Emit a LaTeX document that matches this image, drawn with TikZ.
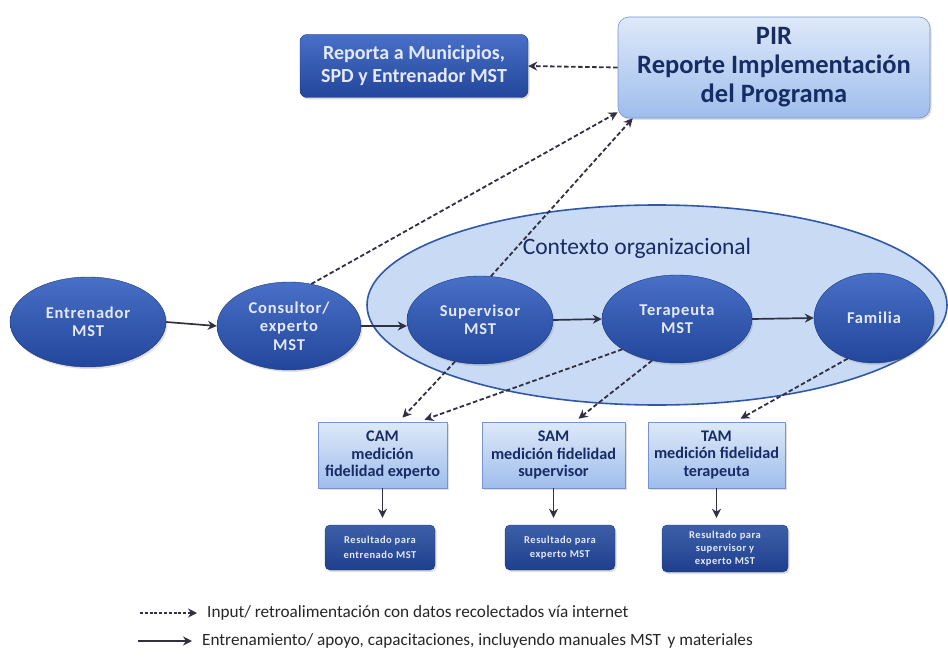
\documentclass[tikz,border=0pt]{standalone}
\usepackage{fontspec}
\setmainfont{Carlito}
\newfontfamily\widefam[LetterSpace=5]{Carlito}
\usetikzlibrary{shapes.geometric,arrows.meta,shadows}
\definecolor{nodetop}{RGB}{72,112,198}
\definecolor{nodebot}{RGB}{34,70,156}
\definecolor{nodetext}{RGB}{228,232,250}
\definecolor{lttop}{RGB}{222,233,249}
\definecolor{ltbot}{RGB}{158,189,236}
\definecolor{ltborder}{RGB}{118,148,206}
\definecolor{lttext}{RGB}{24,44,100}
\definecolor{ctxfill}{RGB}{200,218,244}
\definecolor{ctxborder}{RGB}{48,88,170}
\definecolor{conn}{RGB}{48,48,66}
\tikzset{
  shad/.style={drop shadow={opacity=0.25,shadow xshift=1.5pt,shadow yshift=-2pt}},
  dkell/.style={ellipse, inner sep=0pt, shad, top color=nodetop, bottom color=nodebot,
    draw=nodebot!80!black, line width=0.4pt, text=nodetext, align=center,
    font=\widefam\fontsize{16.5}{18.5}\selectfont\bfseries},
  dkbox/.style={rectangle, rounded corners=7pt, inner sep=0pt, shad, top color=nodetop, bottom color=nodebot,
    draw=nodebot!80!black, line width=0.4pt, text=nodetext, align=center},
  ltbox/.style={rectangle, inner sep=0pt, shad, top color=lttop, bottom color=ltbot,
    draw=ltborder, line width=0.6pt, text=lttext, align=center},
  bigell/.style={ellipse, inner sep=0pt, fill=ctxfill, draw=ctxborder, line width=1.6pt},
  solidarr/.style={draw=conn, line width=1.7pt, -{Stealth[length=9pt,width=9pt]}},
  dasharr/.style={draw=conn, line width=1.8pt, dash pattern=on 4.5pt off 2.5pt, -{Stealth[length=9pt,width=9pt]}},
}
\begin{document}
\begin{tikzpicture}[x=1pt,y=-1pt]
\useasboundingbox[fill=white] (0,0) rectangle (948,658);

% organizational context
\node[bigell, minimum width=580pt, minimum height=200pt] (ctx) at (657,305) {};
\node[text=lttext, font=\fontsize{23.5}{26}\selectfont] (ctxt) at (637,248) {Contexto organizacional};

% top boxes
\node[dkbox, minimum width=228pt, minimum height=63pt, font=\fontsize{20}{23}\selectfont\bfseries]
  (rep) at (414,66) {Reporta a Municipios,\\SPD y Entrenador MST};
\node[ltbox, rounded corners=11pt, minimum width=312pt, minimum height=101pt, font=\fontsize{26.5}{29}\selectfont\bfseries]
  (pir) at (774,67.5) {PIR\\Reporte Implementación\\del Programa};

% ellipses
\node[dkell, minimum width=156pt, minimum height=90pt] (ent) at (88,322) {Entrenador\\MST};
\node[dkell, minimum width=144pt, minimum height=88pt] (con) at (289,326) {Consultor/\\experto\\MST};
\node[dkell, minimum width=146pt, minimum height=88pt] (sup) at (480,320) {Supervisor\\MST};
\node[dkell, minimum width=150pt, minimum height=88pt] (ter) at (677,319) {Terapeuta\\MST};
\node[dkell, minimum width=120pt, minimum height=90pt] (fam) at (874,318) {Familia};

% measurement boxes
\tikzset{measure/.style={ltbox, minimum height=66pt, font=\fontsize{16.2}{17.8}\selectfont\bfseries}}
\node[measure, minimum width=129pt] (cam) at (382.5,455) {CAM\\medición\\fidelidad experto};
\node[measure, minimum width=143pt] (sam) at (553.5,455) {SAM\\medición fidelidad\\supervisor};
\node[measure, minimum width=137pt] (tam) at (716.5,455) {TAM\\medición fidelidad\\terapeuta};

% result boxes
\tikzset{result/.style={dkbox, rounded corners=5pt, top color=nodetop!85!black, bottom color=nodebot!90!black,
  font=\widefam\fontsize{10.5}{14.5}\selectfont\bfseries}}
\node[result, minimum width=110pt, minimum height=45pt] (r1) at (380,547.5) {Resultado para\\entrenado MST};
\node[result, minimum width=110pt, minimum height=45pt] (r2) at (560,547.5) {Resultado para\\experto MST};
\node[result, minimum width=126pt, minimum height=47pt, font=\widefam\fontsize{10.5}{13.2}\selectfont\bfseries] (r3) at (725,548.5) {Resultado para\\supervisor y\\experto MST};

% solid flow
\draw[solidarr] (ent.east) -- (con.west);
\draw[solidarr] (con.east) -- (sup.west |- con.east);
\draw[solidarr] (sup.east) -- (ter.west);
\draw[solidarr] (ter.east) -- (fam.west);
\draw[solidarr, shorten >=7pt] (cam.south) -- (cam.south |- r1.north);
\draw[solidarr, shorten >=7pt] (sam.south) -- (sam.south |- r2.north);
\draw[solidarr, shorten >=7pt] (tam.south) -- (tam.south |- r3.north);

% dashed feedback
\draw[dasharr] (pir.west) -- (rep.east);
\draw[dasharr] (con.62) -- ([yshift=6pt]pir.south west);
\draw[dasharr] (sup.76) -- ([xshift=15pt]pir.south west);
\draw[dasharr] (sup.-121) -- ([xshift=20pt,yshift=4pt]cam.north);
\draw[dasharr] (ter.-151) -- ([xshift=42pt,yshift=2pt]cam.north);
\draw[dasharr] (ter.-121) -- ([xshift=25pt,yshift=3pt]sam.north);
\draw[dasharr] (fam.-123) -- ([xshift=24pt,yshift=3pt]tam.north);

% legend
\coordinate (lg1a) at (140,613);
\coordinate (lg1b) at (197,613);
\coordinate (lg2a) at (138,641);
\coordinate (lg2b) at (192,641);
\draw[dasharr, line width=1.3pt, dash pattern=on 3pt off 1.8pt] (lg1a) -- (lg1b);
\draw[solidarr, line width=1.4pt] (lg2a) -- (lg2b);
\node[anchor=west, inner sep=0pt, text=black!85, font=\fontsize{17.2}{19}\selectfont] (lt1) at (207,613)
  {Input/ retroalimentación con datos recolectados vía internet};
\node[anchor=west, inner sep=0pt, text=black!85, font=\fontsize{17.2}{19}\selectfont] (lt2) at (202,641)
  {Entrenamiento/ apoyo, capacitaciones, incluyendo manuales MST\, y materiales};
\end{tikzpicture}
\end{document}
